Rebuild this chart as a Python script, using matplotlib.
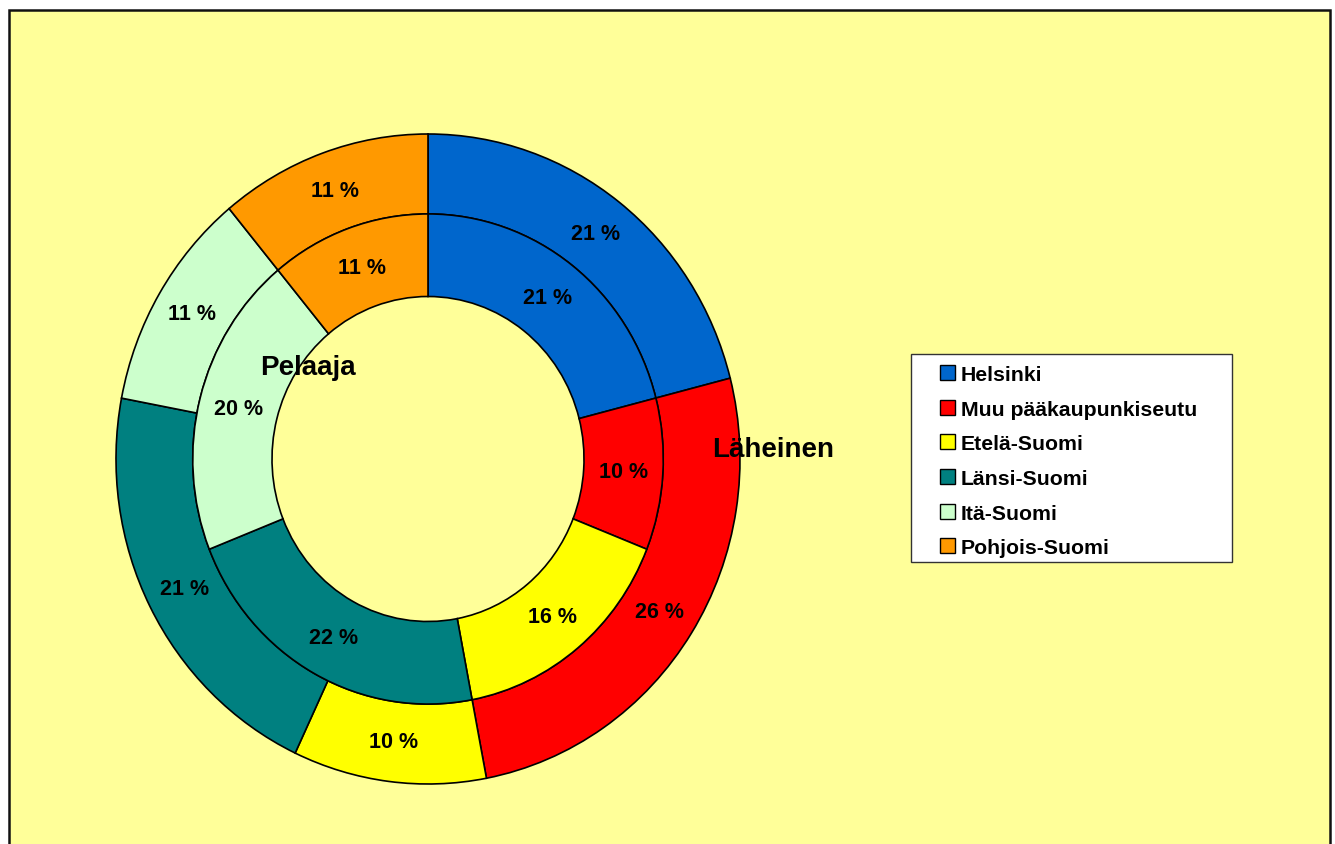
import matplotlib
matplotlib.use("Agg")
import matplotlib.pyplot as plt
from matplotlib.patches import Rectangle

# Data
regions = ["Helsinki", "Muu pääkaupunkiseutu", "Etelä-Suomi",
           "Länsi-Suomi", "Itä-Suomi", "Pohjois-Suomi"]
colors = ["#0066CC", "#FF0000", "#FFFF00", "#008080", "#CCFFCC", "#FF9900"]
pelaaja = [21, 10, 16, 22, 20, 11]     # inner ring
laheinen = [21, 26, 10, 21, 11, 11]    # outer ring

plt.rcParams['font.family'] = ['Liberation Sans', 'DejaVu Sans']

W, H = 1335, 845
fig = plt.figure(figsize=(W / 100, H / 100), dpi=100)
fig.patch.set_facecolor("white")

# chart area background with border
bg = Rectangle((8.5 / W, -0.05), (1330 - 8.5) / W, (H - 11) / H + 0.05,
               transform=fig.transFigure, facecolor="#FFFF99",
               edgecolor="#111111", linewidth=1.8, zorder=0)
fig.add_artist(bg)

# pie axes (slightly taller than wide, like the original)
ax = fig.add_axes([116 / W, 60 / H, 624 / W, 650 / H])
ax.patch.set_alpha(0)

txt = dict(fontsize=15.5, fontweight="bold", color="black")
edge = dict(edgecolor="black", linewidth=1.2)

ax.pie(laheinen, radius=1.0, colors=colors, startangle=90, counterclock=False,
       wedgeprops=dict(width=0.246, **edge), autopct="%.0f %%",
       pctdistance=0.877, textprops=txt)
ax.pie(pelaaja, radius=0.754, colors=colors, startangle=90, counterclock=False,
       wedgeprops=dict(width=0.254, **edge), autopct="%.0f %%",
       pctdistance=0.627 / 0.754, textprops=txt)

ax.set_aspect("auto")
ax.set_xlim(-1, 1)
ax.set_ylim(-1, 1)
ax.axis("off")

# series names
ax.text(-0.385, 0.283, "Pelaaja", fontsize=20, fontweight="bold",
        ha="center", va="center")
ax.text(1.106, 0.031, "Läheinen", fontsize=20, fontweight="bold",
        ha="center", va="center")

# legend
leg_box = Rectangle((911 / W, (H - 563) / H), (1232 - 911) / W, (563 - 355) / H,
                    transform=fig.transFigure, facecolor="white",
                    edgecolor="#333333", linewidth=1.0, zorder=2)
fig.add_artist(leg_box)
for i, (name, c) in enumerate(zip(regions, colors)):
    base = 381 + i * 34.67
    sq = Rectangle((940 / W, (H - base) / H), 15 / W, 15 / H,
                   transform=fig.transFigure, facecolor=c,
                   edgecolor="black", linewidth=1.0, zorder=3)
    fig.add_artist(sq)
    fig.text(961 / W, (H - base) / H, name, fontsize=15.3, fontweight="bold",
             ha="left", va="baseline", zorder=4)

fig.savefig("out.png", dpi=100)
